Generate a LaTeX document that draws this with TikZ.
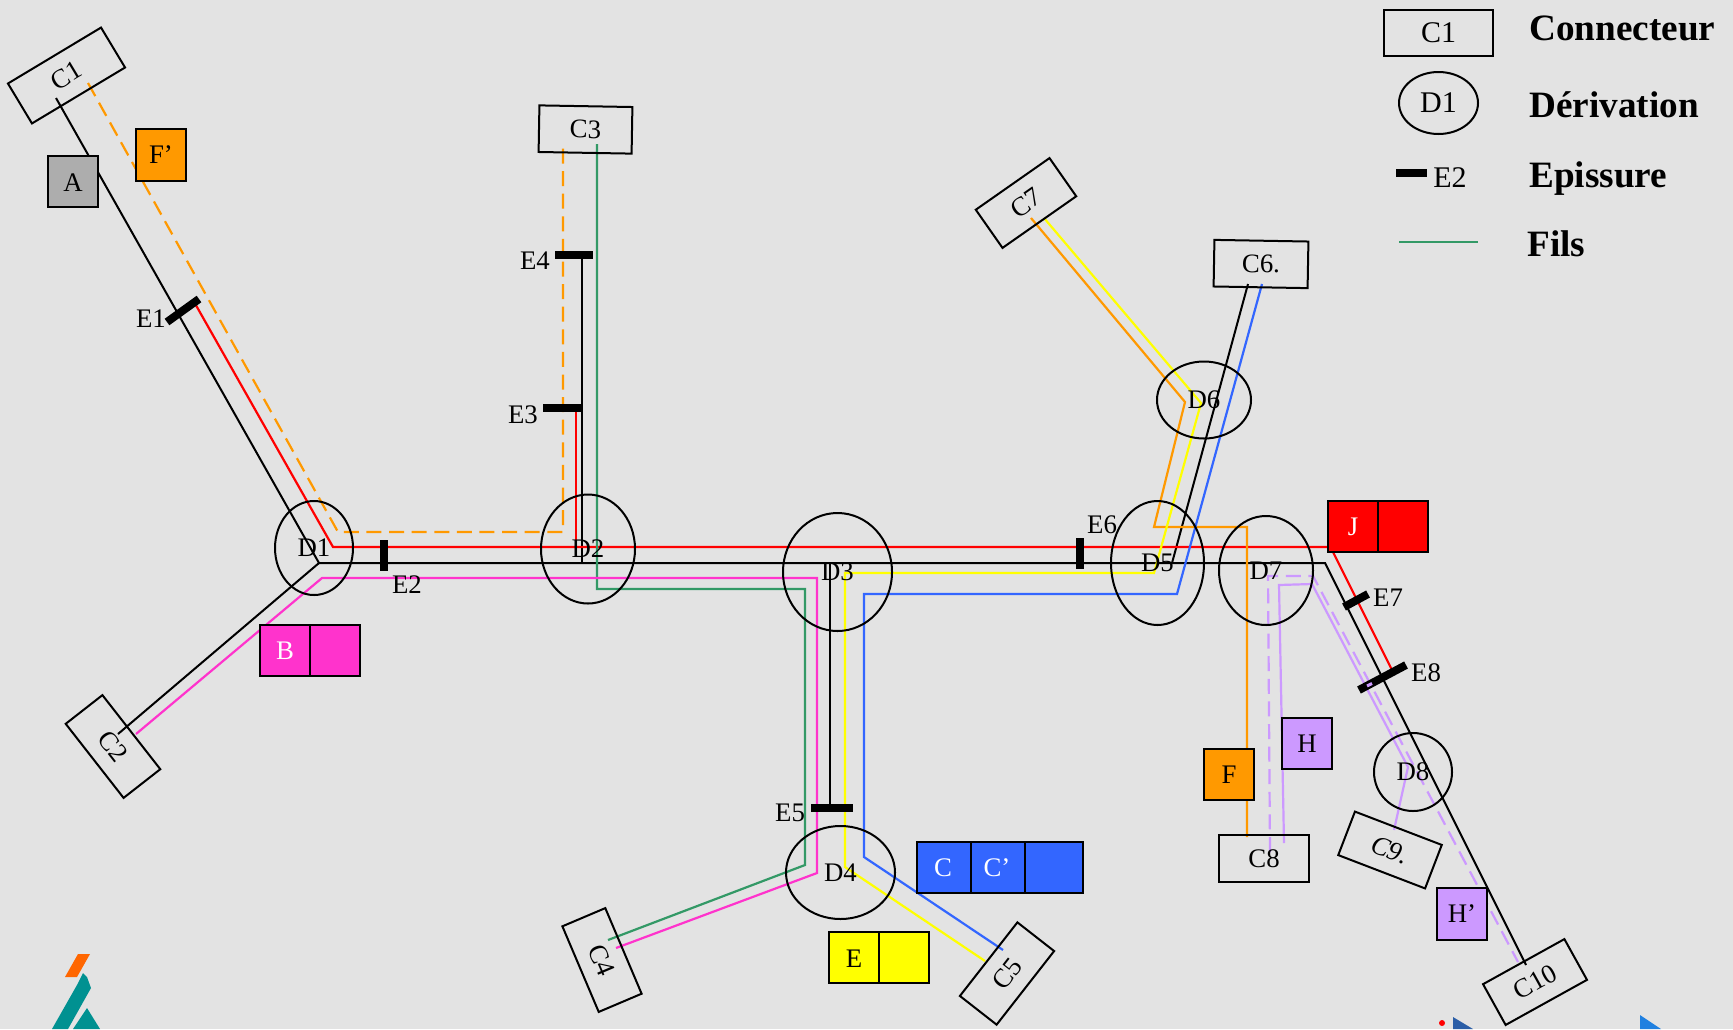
\documentclass[tikz,border=0pt]{standalone}
\usepackage{fontspec}
\setmainfont{Liberation Serif}
\usetikzlibrary{shapes.geometric}
\definecolor{fond}{HTML}{E3E3E3}
\definecolor{orangefil}{HTML}{FF9900}
\definecolor{vertfil}{HTML}{339966}
\definecolor{bleufil}{HTML}{3366FF}
\definecolor{rosefil}{HTML}{FF33CC}
\definecolor{mauvefil}{HTML}{CC99FF}
\definecolor{jaunefil}{HTML}{FFFF00}
\definecolor{rougefil}{HTML}{FF0000}
\definecolor{gris}{HTML}{ADADAD}
\definecolor{logoorange}{HTML}{FF6600}
\definecolor{logoteal}{HTML}{009191}
\definecolor{logobleu}{HTML}{2B5EA7}
\definecolor{logociel}{HTML}{2080E0}
\tikzset{
  txt/.style={font=\fontsize{13.4}{15}\selectfont, inner sep=0pt},
  blanc/.style={txt, text=white},
  legende/.style={font=\fontsize{18.6}{20}\selectfont\bfseries, inner sep=0pt, anchor=west},
  connbox/.style={draw, line width=1pt, rectangle, inner sep=0pt, txt, minimum height=23.3pt},
  derivbox/.style={draw, line width=1pt, ellipse, inner sep=0pt, txt},
  wire/.style={line width=1.1pt, line join=miter},
  dashwire/.style={wire, dash pattern=on 7.5pt off 3.8pt},
  episs/.style={line width=4pt},
  cellbox/.style={draw=black, line width=1.25pt}
}
\newcommand{\conn}[6]{\node[connbox, minimum width=#5pt, rotate=#4] (#1) at (#2,#3) {#6};}
\newcommand{\deriv}[6]{\node[derivbox, minimum width=#4pt, minimum height=#5pt] (#1) at (#2,#3) {#6};}
\newcommand{\cell}[5]{\draw[cellbox, fill=#5] (#1,#2) rectangle (#3,#4);}
\newcommand{\lablnode}[4]{\node[txt] (#1) at (#2,#3) {#4};}
\newcommand{\whitenode}[4]{\node[blanc] (#1) at (#2,#3) {#4};}
\begin{document}
\begin{tikzpicture}[x=0.5pt,y=-0.5pt]
        \fill[fond] (0,0) rectangle (1733,1029);
        \useasboundingbox (0,0) rectangle (1733,1029);
        % logos
        \fill[logoorange] (78,954) -- (90,954) -- (77,977) -- (65,977) -- cycle;
        \fill[logoteal] (83,973) -- (87,977) -- (91,988) -- (68,1029) -- (52,1029) -- (77,985) -- cycle;
        \fill[logoteal] (87,1008) -- (100,1029) -- (73,1029) -- cycle;
        \fill[rougefil] (1442,1023) circle (3);
        \fill[logobleu] (1453,1017) -- (1473,1029) -- (1453,1029) -- cycle;
        \fill[logociel] (1640,1015) -- (1661,1029) -- (1640,1029) -- cycle;
        % ends of wires
        \coordinate (c1n) at (56,98);
        \coordinate (c1o) at (88,83);
        \coordinate (e1r) at (193,300);
        \coordinate (c2n) at (118,734);
        \coordinate (c2p) at (136,734);
        \coordinate (c3o) at (563,147);
        \coordinate (c3v) at (597,144);
        \coordinate (c4v) at (608,940);
        \coordinate (c4p) at (616,948);
        \coordinate (c5y) at (985,961);
        \coordinate (c5b) at (1003,950);
        \coordinate (c6n) at (1248,284);
        \coordinate (c6b) at (1262,284);
        \coordinate (c7o) at (1031,218);
        \coordinate (c7y) at (1044,218);
        \coordinate (c8o) at (1247,837);
        \coordinate (c8m) at (1284,843);
        \coordinate (c8d) at (1270,852);
        \coordinate (c9m) at (1394,830);
        \coordinate (c10n) at (1526,965);
        \coordinate (c10d) at (1518,962);
        % bends
        \coordinate (d1n) at (319,563);
        \coordinate (d7n) at (1325,563);
        \coordinate (d1r) at (333,547);
        \coordinate (d1o) at (338,532);
        \coordinate (d2o) at (563,532);
        \coordinate (d1p) at (322,578);
        % black wires
        \draw[wire, line width=1pt] (c1n) -- (d1n) -- (c2n);
        \draw[wire, line width=1pt] (d1n) -- (d7n) -- (c10n);
        \draw[wire, line width=1pt] (582,563) -- (582,255);
        \draw[wire, line width=1pt] (830,563) -- (830,808);
        \draw[wire, line width=1pt] (c6n) -- (1172,563);
        % red wires
        \draw[wire, rougefil] (e1r) -- (d1r) -- (1328,547);
        \draw[wire, rougefil] (576,547) -- (576,408);
        \draw[wire, rougefil] (1333,552) -- (1393,672);
        % orange wires
        \draw[dashwire, orangefil] (c1o) -- (d1o) -- (d2o) -- (c3o);
        \draw[wire, orangefil] (c7o) -- (1185,402) -- (1154,527) -- (1247,527) -- (c8o);
        % green wire
        \draw[wire, vertfil] (c3v) -- (597,589) -- (805,589) -- (805,865) -- (c4v);
        % pink wire
        \draw[wire, rosefil] (c2p) -- (d1p) -- (817,578) -- (817,873) -- (c4p);
        % yellow wire
        \draw[wire, jaunefil] (c7y) -- (1201,403) -- (1154,573) -- (845,573) -- (845,867) -- (c5y);
        % blue wire
        \draw[wire, bleufil] (c6b) -- (1177,594) -- (864,594) -- (864,857) -- (c5b);
        % lilac wires
        \draw[wire, mauvefil] (c8m) -- (1279,585) -- (1312,584) -- (1408,767) -- (c9m);
        \draw[dashwire, mauvefil] (c8d) -- (1268,576) -- (1313,576) -- (c10d);
        % splices
        \draw[episs] (167,322) -- (199,299);
        \draw[episs] (384,540) -- (384,571);
        \draw[episs] (543,408) -- (581,408);
        \draw[episs] (555,255) -- (593,255);
        \draw[episs] (811,808) -- (853,808);
        \draw[episs] (1080,538) -- (1080,569);
        \draw[episs] (1344,607) -- (1368,594);
        \draw[episs] (1359,690) -- (1406,665);
        \draw[wire, mauvefil, line width=1.5pt] (1367,686) -- (1372,683.5);
        \lablnode{E1}{151}{319}{E1}
        \lablnode{E2}{407}{585}{E2}
        \lablnode{E3}{523}{415}{E3}
        \lablnode{E4}{535}{261}{E4}
        \lablnode{E5}{790}{813}{E5}
        \lablnode{E6}{1102}{525}{E6}
        \lablnode{E7}{1388}{598}{E7}
        \lablnode{E8}{1426}{673}{E8}
        % connectors
        \conn{C1}{66.5}{75.5}{31}{54.3}{C1}
        \conn{C2}{113}{746.5}{-52}{47}{C2}
        \conn{C3}{585.5}{129.5}{-1}{46.5}{C3}
        \conn{C4}{602}{960}{-67}{46.5}{C4}
        \conn{C5}{1007}{973.5}{52}{46.7}{C5}
        \conn{C6}{1261}{264}{-1}{47}{C6.}
        \conn{C7}{1026}{203}{35}{45}{C7}
        \conn{C8}{1264}{858.5}{0}{45}{C8}
        \conn{C9}{1390}{850}{-21}{46.5}{\textit{C9.}}
        \conn{C10}{1535}{982}{29}{46.5}{C10}
        % derivations
        \deriv{D1}{314}{548}{39}{47}{D1}
        \deriv{D2}{588}{549}{47}{54.5}{D2}
        \deriv{D3}{837.5}{572}{54.5}{59}{D3}
        \deriv{D4}{840.5}{872.5}{54.5}{46.5}{D4}
        \deriv{D5}{1157.5}{563}{46.5}{62}{D5}
        \deriv{D6}{1204}{400}{47}{38.5}{D6}
        \deriv{D7}{1266}{570.5}{47}{54.5}{D7}
        \deriv{D8}{1413}{772}{39}{39}{D8}
        % coloured boxes
        \cell{48}{156}{98}{207}{gris}
        \lablnode{lblA}{73}{183}{A}
        \cell{136}{129}{186}{181}{orangefil}
        \lablnode{lblFp}{161}{155}{F’}
        \cell{260}{625}{310}{676}{rosefil}
        \cell{310}{625}{360}{676}{rosefil}
        \whitenode{lblB}{285}{651}{B}
        \cell{1328}{501}{1378}{552}{rougefil}
        \cell{1378}{501}{1428}{552}{rougefil}
        \whitenode{lblJ}{1353}{527}{J}
        \cell{917}{842}{971}{893}{bleufil}
        \cell{971}{842}{1025}{893}{bleufil}
        \cell{1025}{842}{1083}{893}{bleufil}
        \whitenode{lblC}{943}{868}{C}
        \whitenode{lblCp}{997}{868}{C’}
        \cell{829}{932}{879}{983}{jaunefil}
        \cell{879}{932}{929}{983}{jaunefil}
        \lablnode{lblE}{854}{959}{E}
        \cell{1204}{749}{1254}{800}{orangefil}
        \lablnode{lblF}{1229}{775}{F}
        \cell{1282}{718}{1332}{769}{mauvefil}
        \lablnode{lblH}{1307}{744}{H}
        \cell{1437}{888}{1487}{940}{mauvefil}
        \lablnode{lblHp}{1462}{914}{H’}
        % legend
        \conn{legC}{1438.5}{33}{0}{54.5}{\fontsize{15}{16}\selectfont C1}
        \deriv{legD}{1438.5}{103}{39.5}{31}{\fontsize{15}{16}\selectfont D1}
        \draw[episs] (1396,173) -- (1427,173);
        \lablnode{legE}{1450}{178}{\fontsize{15}{16}\selectfont E2}
        \coordinate (legfa) at (1399,242);
        \coordinate (legfb) at (1478,242);
        \draw[wire, vertfil] (legfa) -- (legfb);
        \node[legende] (txtC) at (1529,28) {Connecteur};
        \node[legende] (txtD) at (1529,105) {Dérivation};
        \node[legende] (txtE) at (1529,179) {Epissure};
        \node[legende] (txtF) at (1527,244) {Fils};
\end{tikzpicture}
\end{document}
